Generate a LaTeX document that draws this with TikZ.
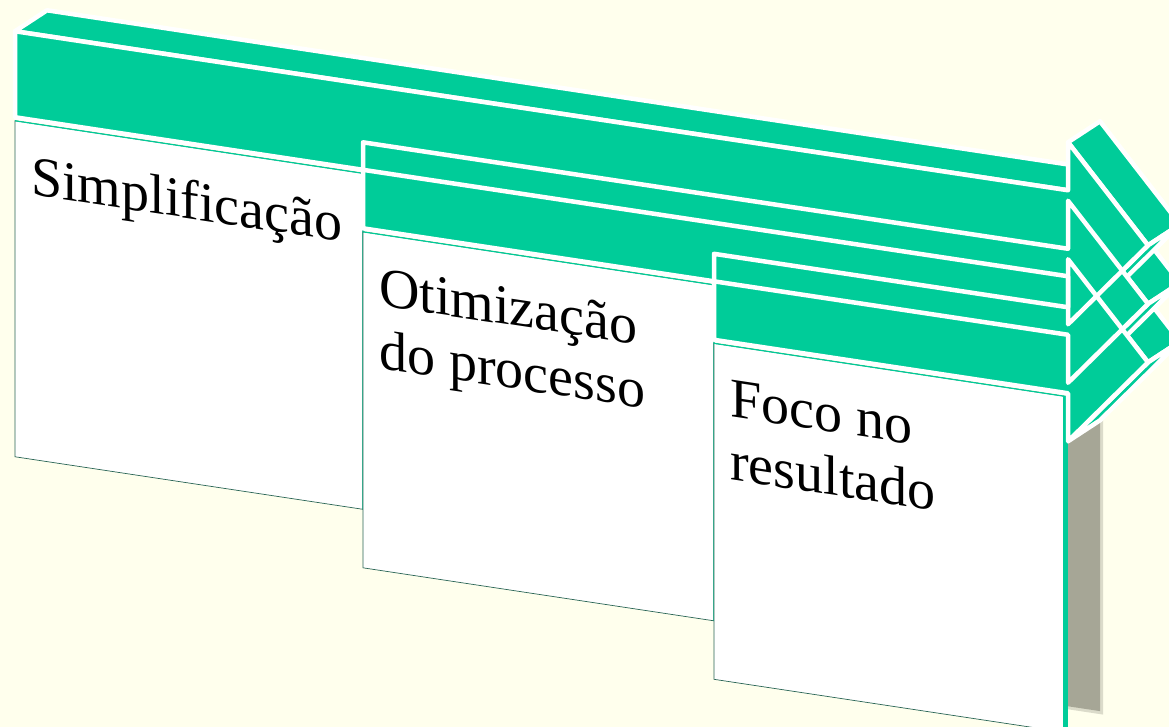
\documentclass[tikz,border=0pt]{standalone}
\usepackage{fontspec}
\setmainfont{Liberation Serif}
\definecolor{accent}{RGB}{0,204,153}
\definecolor{paper}{RGB}{255,255,237}
\definecolor{cardedge}{RGB}{40,100,84}
\definecolor{shadowgrey}{RGB}{166,166,150}

\begin{document}
\begin{tikzpicture}[x=1pt, y=-1pt,
    face/.style={fill=accent, draw=white, line width=4.5pt, line join=round},
    faceline/.style={draw=white, line width=4.5pt, line join=round},
    card/.style={fill=white, draw=cardedge, line width=0.7pt},
    cardtop/.style={draw=accent, line width=1.2pt},
    label/.style={anchor=base west, inner sep=0pt, align=left, transform shape,
                  font=\fontsize{56}{63}\selectfont}]

  \useasboundingbox (0,0) rectangle (1169,727);
  \fill[paper] (0,0) rectangle (1169,727);
  \clip (0,0) rectangle (1169,727);

  \begin{scope}[yslant=-0.151]
    % shadow behind the last card
    \fill[shadowgrey!40!paper] (1066,252) rectangle (1103,548);
    \fill[shadowgrey] (1066,250) rectangle (1100,545);

    % depth faces, back to front
    \draw[face] (1068,98) -- (1148,189) -- (1180,163.2) -- (1100,72.2) -- cycle;
    \draw[face] (1148,189) -- (1068,280) -- (1100,254.2) -- (1180,163.2) -- cycle;
    \draw[face] (1068,39.5) -- (1148,130.5) -- (1180,104.7) -- (1100,13.7) -- cycle;
    \draw[face] (1148,130.5) -- (1068,221.5) -- (1100,195.7) -- (1180,104.7) -- cycle;
    \draw[face] (15,29) -- (1068,29) -- (1100,3.2) -- (47,3.2) -- cycle;
    \draw[face] (1068,-19) -- (1148,72) -- (1180,46.2) -- (1100,-44.8) -- cycle;
    \draw[face] (1148,72) -- (1068,163) -- (1100,137.2) -- (1180,46.2) -- cycle;

    % front faces
    \fill[accent] (15,29) -- (1068,29) -- (1068,-19) -- (1148,72) -- (1068,163) -- (1068,115) -- (15,115) -- cycle;
    \fill[accent] (363,87.5) -- (1068,87.5) -- (1068,39.5) -- (1148,130.5) -- (1068,221.5) -- (1068,173.5) -- (363,173.5) -- cycle;
    \fill[accent] (714,146) -- (1068,146) -- (1068,98) -- (1148,189) -- (1068,280) -- (1068,232) -- (714,232) -- cycle;

    % cards
    \draw[card] (15,118.5) rectangle (363,454.5);
    \draw[cardtop] (15,118.5) -- (363,118.5) -- (363,454.5);
    \draw[card] (363,177) rectangle (714,513);
    \draw[cardtop] (363,177) -- (714,177) -- (714,513);
    \draw[card] (714,235.5) rectangle (1066,571.5);
    \draw[cardtop] (714,235.5) -- (1066,235.5);
    \draw[accent, line width=5pt] (1065,235.5) -- (1065,580);

    % outlines of the front faces
    \draw[faceline] (15,29) -- (1068,29) -- (1068,-19) -- (1148,72) -- (1068,163) -- (1068,115) -- (15,115) -- cycle;
    \draw[faceline] (363,87.5) -- (1068,87.5) -- (1068,39.5) -- (1148,130.5) -- (1068,221.5) -- (1068,173.5) -- (363,173.5) -- cycle;
    \draw[faceline] (714,146) -- (1068,146) -- (1068,98) -- (1148,189) -- (1068,280) -- (1068,232) -- (714,232) -- cycle;

    % labels
    \node (simpl) [label] at (31,190) {Simplificação};
    \node (otim) [label] at (379,311) {Otimização\\do processo};
    \node (foco) [label] at (730,369.5) {Foco no\\resultado};
  \end{scope}
\end{tikzpicture}
\end{document}
